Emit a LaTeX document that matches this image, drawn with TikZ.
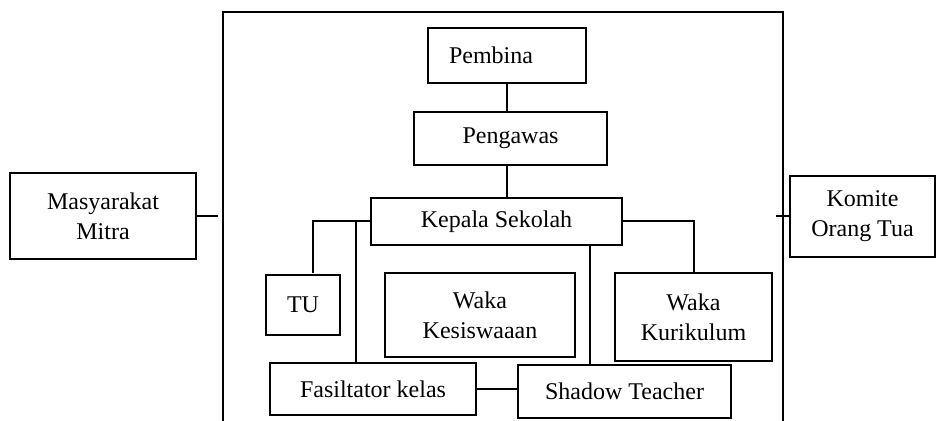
\documentclass[tikz,border=0pt]{standalone}
\usepackage{fontspec}
\setmainfont{Liberation Serif}

\begin{document}
\begin{tikzpicture}[x=0.5pt,y=-0.5pt,
    unit/.style={draw,line width=1pt,align=center,inner sep=0pt,
                 font=\fontsize{12}{15}\selectfont},
    link/.style={line width=1pt}]
\useasboundingbox (0,0) rectangle (936,421);
\draw[link] (223,421)--(223,12)--(783,12)--(783,421);

\node[unit,minimum width=79pt,minimum height=27.5pt,text width=58pt,align=left] (pembina) at (507,55.5) {Pembina};
\node[unit,minimum width=96.5pt,minimum height=26.5pt] (pengawas) at (510.5,138.5) {Pengawas};
\node[unit,minimum width=125.5pt,minimum height=23.5pt] (kepala) at (496.5,221.5) {Kepala Sekolah};
\node[unit,minimum width=37pt,minimum height=30pt] (tu) at (303,305) {TU};
\node[unit,minimum width=95pt,minimum height=42pt] (kesiswaan) at (480,315) {Waka\\Kesiswaaan};
\node[unit,minimum width=78.5pt,minimum height=44pt] (kurikulum) at (693.5,317) {Waka\\Kurikulum};
\node[unit,minimum width=103pt,minimum height=26pt] (fasil) at (373,389) {Fasiltator kelas};
\node[unit,minimum width=106.5pt,minimum height=26.5pt] (shadow) at (624.5,391.5) {Shadow Teacher};
\node[unit,minimum width=93pt,minimum height=43pt] (mitra) at (103,216) {Masyarakat\\Mitra};
\node[unit,minimum width=72.5pt,minimum height=40.5pt] (komite) at (862.5,216.5) {Komite\\Orang Tua};

\coordinate (tutop) at (313,273);
\coordinate (fasjoint) at (356,221.5);
\coordinate (stjoint) at (590,245);
\coordinate (mitraend) at (218,216);
\coordinate (komiteend) at (776,216.5);

\draw[link] (pembina.south) -- (pembina.south |- pengawas.north);
\draw[link] (pengawas.south -| pembina.south) -- (kepala.north -| pembina.south);
\draw[link] (kepala.west) -| (tutop);
\draw[link] (fasjoint) -- (fasjoint |- fasil.north);
\draw[link] (kepala.east) -| (kurikulum.north);
\draw[link] (stjoint |- kepala.south) -- (stjoint |- shadow.north);
\draw[link] (fasil.east) -- (fasil.east -| shadow.west);
\draw[link] (mitra.east) -- (mitraend);
\draw[link] (komite.west) -- (komiteend);
\end{tikzpicture}
\end{document}
